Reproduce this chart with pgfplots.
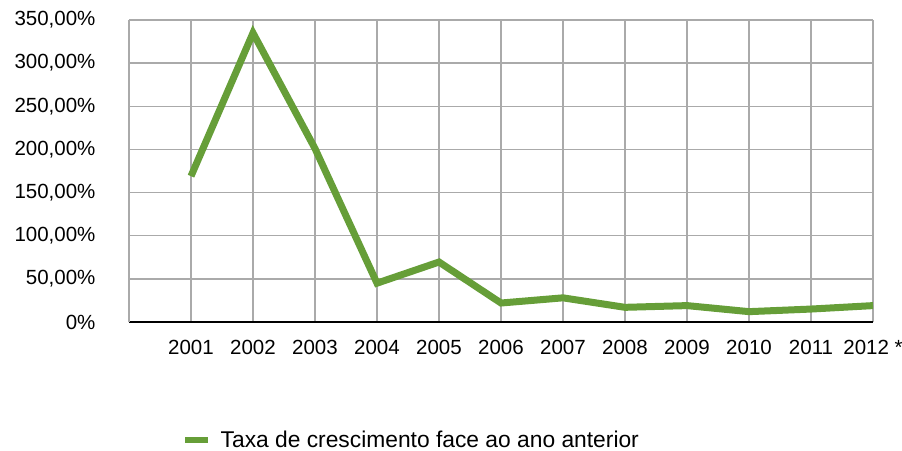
\documentclass[border=0pt]{standalone}
\usepackage{fontspec}
\setmainfont{Liberation Sans}
\usepackage{pgfplots}
\pgfplotsset{compat=1.18}
\definecolor{lgreen}{RGB}{102,158,56}
\definecolor{gridgray}{RGB}{170,170,170}
\begin{document}
\begin{tikzpicture}
\useasboundingbox (0,0) rectangle (902bp,451bp);
\begin{axis}[
  at={(129bp,129bp)}, anchor=south west,
  scale only axis, width=744bp, height=302bp,
  xmin=0, xmax=12, ymin=0, ymax=350,
  xtick={0,...,12},
  xticklabels={,2001,2002,2003,2004,2005,2006,2007,2008,2009,2010,2011,2012 *},
  ytick={0,50,...,350},
  yticklabels={{0\%},{50,00\%},{100,00\%},{150,00\%},{200,00\%},{250,00\%},{300,00\%},{350,00\%}},
  /pgf/number format/assume math mode=true,
  major tick length=0pt,
  grid=major,
  major grid style={gridgray, line width=1.4bp},
  axis lines*=left,
  y axis line style={gridgray, line width=1.4bp},
  x axis line style={black, line width=1.8bp},
  tick label style={font=\fontsize{20.5bp}{22bp}\selectfont, text=black},
  xticklabel style={yshift=-15bp},
  yticklabel style={xshift=-30bp},
  legend style={at={(0.0712,-0.391)}, anchor=west, draw=none, fill=none, inner sep=0pt,
    font=\fontsize{22.8bp}{26bp}\selectfont, legend cell align=left},
  legend image code/.code={\draw[#1, line width=6bp] (0bp,0bp) -- (23bp,0bp); \path (30bp,0bp);},
  clip=false,
]
\addplot[lgreen, line width=7bp, line join=miter, miter limit=10] coordinates {
 (1,169) (2,335) (3,201) (4,45) (5,69.5) (6,22) (7,28) (8,17) (9,19) (10,12) (11,15) (12,19)
};
\addlegendentry{Taxa de crescimento face ao ano anterior}
\end{axis}
\end{tikzpicture}
\end{document}
